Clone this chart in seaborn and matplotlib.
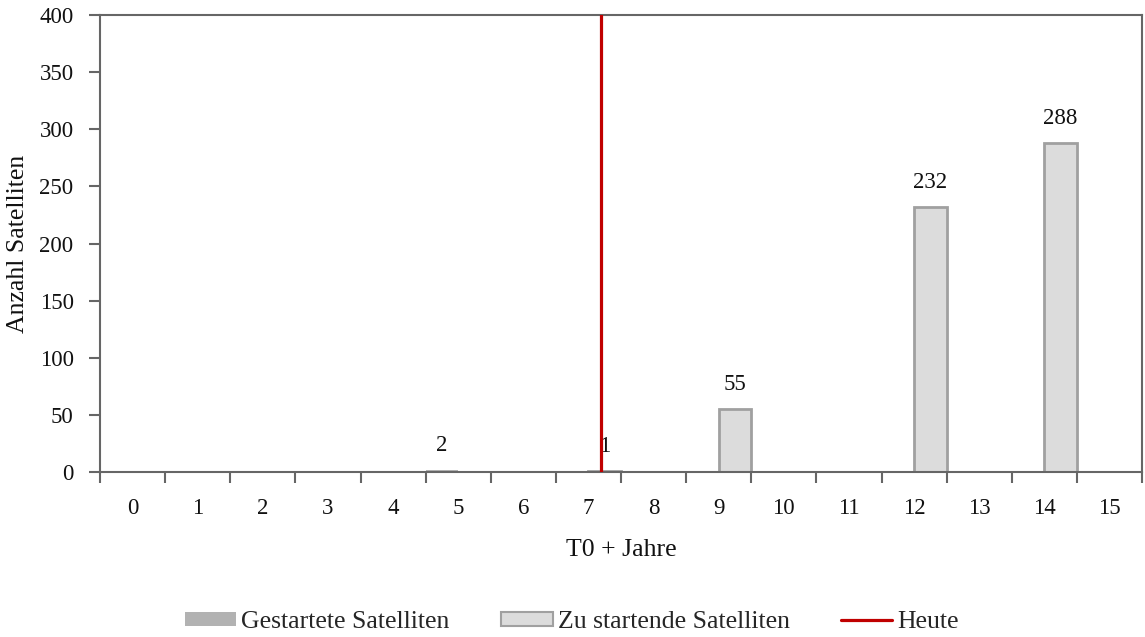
import numpy as np
import pandas as pd
import matplotlib
matplotlib.use("Agg")
import matplotlib.pyplot as plt
import seaborn as sns
from matplotlib.patches import Patch
from matplotlib.lines import Line2D

# Jahre nach T0 und Anzahl Satelliten je Jahr
jahre = list(range(16))
gestartet = [0, 0, 0, 0, 0, 2, 0, 0, 0, 0, 0, 0, 0, 0, 0, 0]
zu_starten = [0, 0, 0, 0, 0, 0, 0, 1, 0, 55, 0, 0, 232, 0, 288, 0]
serien = ["Gestartete Satelliten", "Zu startende Satelliten"]
heute = 7.2
y_ticks = list(range(0, 401, 50))

df = pd.DataFrame({
    "Jahr": jahre * 2,
    "Serie": [serien[0]] * len(jahre) + [serien[1]] * len(jahre),
    "Anzahl": gestartet + zu_starten,
})

sns.set_theme(style="white")
plt.rcParams["font.family"] = ["Liberation Serif", "DejaVu Serif"]
FS_ZAHL = 16.5
FS_TEXT = 18.5
TXT = "#111111"
GRAU = "#666666"

fig = plt.figure(figsize=(11.45, 6.37), dpi=100)
ax = fig.add_axes([100 / 1145, 1 - 472 / 637, 1042 / 1145, 457 / 637])

farben = {serien[0]: "#b2b2b2", serien[1]: "#dcdcdc"}
sns.barplot(data=df, x="Jahr", y="Anzahl", hue="Serie", palette=farben,
            width=1.0, gap=0, dodge=True, ax=ax, legend=False, errorbar=None)

kanten = {serien[0]: ("none", 0), serien[1]: ("#a0a0a0", 2.0)}
for cont, name in zip(ax.containers, serien):
    ec, lw = kanten[name]
    for bar in cont:
        bar.set_edgecolor(ec)
        bar.set_linewidth(lw)
    werte = [b.get_height() for b in cont]
    ax.bar_label(cont, labels=[f"{int(v)}" if v > 0 else "" for v in werte],
                 padding=10, fontsize=FS_ZAHL, color=TXT)

ax.axvline(heute, color="#c00000", lw=2.3, zorder=5)

ax.set_xlim(-0.5, 15.5)
ax.set_ylim(0, 400)
ax.set_yticks(y_ticks)
ax.set_xticks(jahre)
ax.set_xticklabels([str(j) for j in jahre])
ax.set_xticks(np.arange(-0.5, 16, 1), minor=True)
ax.tick_params(axis="x", which="major", length=0, pad=19, labelsize=FS_ZAHL, labelcolor=TXT)
ax.tick_params(axis="x", which="minor", length=8, width=1.5, color=GRAU, direction="out", bottom=True)
ax.tick_params(axis="y", length=8, width=1.5, color=GRAU, direction="out", left=True,
               labelsize=FS_ZAHL, labelcolor=TXT, pad=11)

for sp in ax.spines.values():
    sp.set_visible(True)
    sp.set_color(GRAU)
    sp.set_linewidth(1.5)

ax.set_xlabel("T0 + Jahre", fontsize=FS_TEXT, color=TXT)
ax.set_ylabel("Anzahl Satelliten", fontsize=FS_TEXT, color=TXT)
ax.xaxis.set_label_coords(0.5, -(539 - 472) / 457)
ax.yaxis.set_label_coords(-(100 - 29) / 1042, 0.5)

handles = [
    Patch(facecolor=farben[serien[0]], edgecolor="none"),
    Patch(facecolor="#dcdcdc", edgecolor="#a0a0a0", linewidth=1.5),
    Line2D([0], [0], color="#c00000", lw=2.3),
]
fig.legend(handles, serien + ["Heute"], loc="center", bbox_to_anchor=(572 / 1145, 1 - 622 / 637),
           ncol=3, frameon=False, fontsize=FS_TEXT, handlelength=2.0, handletextpad=0.2,
           columnspacing=2.0, handleheight=0.47)

fig.savefig("out.png", dpi=100)
